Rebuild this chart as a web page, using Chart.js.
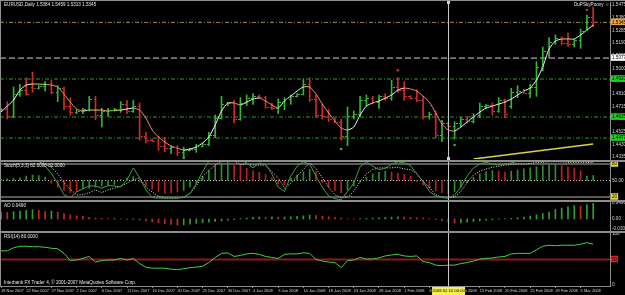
<!DOCTYPE html>
<html>
<head>
<meta charset="utf-8">
<script src="https://cdn.jsdelivr.net/npm/chart.js@4.4.1/dist/chart.umd.min.js"></script>
<style>
  html, body { margin: 0; padding: 0; background: #000; }
  #wrap { position: relative; width: 625px; height: 295px; background: #000; overflow: hidden; }
  #wrap canvas { position: absolute; left: 0; }
  .lbl { position: absolute; color: #e6e6e6; font: 4.6px "Liberation Sans", Arial, sans-serif; white-space: nowrap; line-height: 6px; z-index: 3; }
  .sep { position: absolute; left: 0; width: 625px; height: 2px; background: #8e8e8e; z-index: 2; }
</style>
</head>
<body>
<div id="wrap">
  <canvas id="cMain" width="625" height="160" style="top:0"></canvas>
  <canvas id="cSto" width="625" height="38" style="top:162px"></canvas>
  <canvas id="cAO" width="625" height="29" style="top:202px"></canvas>
  <canvas id="cRSI" width="625" height="62" style="top:233px"></canvas>
  <div class="sep" style="top:0;height:1px"></div>
  <div class="sep" style="top:0;left:0;width:1px;height:287px"></div>
  <div class="sep" style="top:160px"></div>
  <div class="sep" style="top:200px"></div>
  <div class="sep" style="top:231px"></div>
  <div class="lbl" id="tMain" style="left:4px;top:2px"></div>
  <div class="lbl" style="left:574px;top:2px">DuPSkyPoony &#9786;</div>
  <div class="lbl" id="tSto" style="left:4px;top:163px"></div>
  <div class="lbl" id="tAO" style="left:4px;top:203px"></div>
  <div class="lbl" id="tRSI" style="left:4px;top:234px"></div>
  <div class="lbl" style="left:4px;top:280px">Interbank FX Trader 4, &copy; 2001-2007 MetaQuotes Software Corp.</div>
</div>
<script>
// x axis labels, one every 4 bars starting at bar 0
var dateLabels = ['18 Nov 2007','22 Nov 2007','27 Nov 2007','2 Dec 2007','6 Dec 2007','11 Dec 2007',
  '16 Dec 2007','20 Dec 2007','25 Dec 2007','30 Dec 2007','4 Jan 2008','9 Jan 2008','14 Jan 2008',
  '18 Jan 2008','23 Jan 2008','28 Jan 2008','1 Feb 2008','6 Feb 2008','11 Feb 2008','15 Feb 2008',
  '20 Feb 2008','25 Feb 2008','29 Feb 2008','5 Mar 2008'];
var LABEL_STEP = 4;

// EURUSD daily bars
var open = [1.4690,1.4695,1.4640,1.4810,1.4840,1.4860,1.4850,1.4865,1.4880,1.4820,
  1.4850,1.4720,1.4670,1.4680,1.4690,1.4770,1.4650,1.4680,1.4690,1.4695,
  1.4735,1.4680,1.4720,1.4490,1.4460,1.4455,1.4420,1.4400,1.4410,1.4370,
  1.4390,1.4395,1.4420,1.4430,1.4500,1.4630,1.4730,1.4740,1.4620,1.4740,
  1.4780,1.4790,1.4785,1.4710,1.4700,1.4750,1.4770,1.4790,1.4805,1.4880,
  1.4770,1.4650,1.4640,1.4620,1.4600,1.4490,1.4640,1.4660,1.4760,1.4780,
  1.4750,1.4790,1.4775,1.4860,1.4840,1.4790,1.4775,1.4760,1.4640,1.4655,
  1.4500,1.4590,1.4570,1.4590,1.4620,1.4605,1.4650,1.4720,1.4725,1.4680,
  1.4760,1.4720,1.4820,1.4830,1.4815,1.4860,1.5010,1.5130,1.5200,1.5230,
  1.5190,1.5180,1.5210,1.5290,1.5384];
var high = [1.4700,1.4750,1.4860,1.4880,1.4930,1.4970,1.4870,1.4900,1.4910,1.4870,
  1.4860,1.4780,1.4690,1.4700,1.4790,1.4790,1.4700,1.4700,1.4700,1.4750,
  1.4760,1.4760,1.4740,1.4520,1.4470,1.4490,1.4480,1.4420,1.4420,1.4410,
  1.4400,1.4430,1.4440,1.4520,1.4650,1.4790,1.4745,1.4760,1.4780,1.4800,
  1.4810,1.4800,1.4790,1.4740,1.4770,1.4780,1.4800,1.4810,1.4920,1.4930,
  1.4800,1.4730,1.4690,1.4625,1.4620,1.4710,1.4680,1.4790,1.4800,1.4790,
  1.4800,1.4810,1.4910,1.4930,1.4900,1.4795,1.4840,1.4790,1.4670,1.4680,
  1.4610,1.4600,1.4600,1.4630,1.4640,1.4660,1.4740,1.4730,1.4740,1.4780,
  1.4770,1.4850,1.4870,1.4845,1.4880,1.5050,1.5160,1.5230,1.5250,1.5235,
  1.5265,1.5220,1.5295,1.5400,1.5459];
var low = [1.4680,1.4620,1.4630,1.4790,1.4800,1.4820,1.4845,1.4830,1.4810,1.4750,
  1.4690,1.4650,1.4660,1.4660,1.4680,1.4615,1.4560,1.4640,1.4680,1.4670,
  1.4660,1.4670,1.4460,1.4440,1.4450,1.4385,1.4375,1.4360,1.4345,1.4340,
  1.4380,1.4370,1.4410,1.4420,1.4480,1.4620,1.4720,1.4590,1.4610,1.4720,
  1.4730,1.4780,1.4700,1.4690,1.4660,1.4690,1.4730,1.4785,1.4800,1.4750,
  1.4630,1.4620,1.4600,1.4590,1.4460,1.4420,1.4620,1.4640,1.4720,1.4740,
  1.4700,1.4760,1.4760,1.4820,1.4760,1.4770,1.4750,1.4620,1.4620,1.4480,
  1.4450,1.4560,1.4470,1.4560,1.4590,1.4590,1.4630,1.4700,1.4650,1.4670,
  1.4630,1.4700,1.4780,1.4810,1.4780,1.4790,1.4980,1.5080,1.5180,1.5175,
  1.5165,1.5160,1.5150,1.5285,1.5313];
var close = [1.4695,1.4640,1.4810,1.4840,1.4810,1.4850,1.4865,1.4880,1.4820,1.4850,
  1.4720,1.4670,1.4680,1.4695,1.4770,1.4650,1.4680,1.4690,1.4695,1.4735,
  1.4680,1.4720,1.4490,1.4460,1.4455,1.4420,1.4400,1.4410,1.4370,1.4390,
  1.4395,1.4420,1.4430,1.4500,1.4630,1.4730,1.4740,1.4620,1.4740,1.4780,
  1.4790,1.4785,1.4710,1.4700,1.4750,1.4770,1.4790,1.4805,1.4880,1.4770,
  1.4650,1.4640,1.4620,1.4600,1.4490,1.4640,1.4660,1.4760,1.4780,1.4750,
  1.4790,1.4775,1.4860,1.4840,1.4790,1.4775,1.4760,1.4640,1.4655,1.4500,
  1.4590,1.4570,1.4590,1.4620,1.4605,1.4650,1.4720,1.4725,1.4680,1.4760,
  1.4660,1.4820,1.4830,1.4815,1.4860,1.5010,1.5130,1.5200,1.5230,1.5190,
  1.5180,1.5210,1.5280,1.5384,1.5345];

// smoothed average drawn over the bars
var ma = [1.4672,1.4717,1.4762,1.4837,1.4875,1.4882,1.4882,1.4879,1.4875,1.4860,
  1.4807,1.4747,1.4695,1.4680,1.4687,1.4687,1.4687,1.4680,1.4684,1.4687,
  1.4695,1.4702,1.4687,1.4627,1.4537,1.4485,1.4447,1.4417,1.4402,1.4387,
  1.4395,1.4410,1.4440,1.4485,1.4575,1.4680,1.4740,1.4740,1.4725,1.4747,
  1.4770,1.4777,1.4755,1.4725,1.4702,1.4755,1.4792,1.4830,1.4860,1.4860,
  1.4807,1.4732,1.4665,1.4605,1.4552,1.4537,1.4560,1.4650,1.4717,1.4740,
  1.4755,1.4777,1.4800,1.4837,1.4852,1.4845,1.4830,1.4792,1.4747,1.4665,
  1.4582,1.4537,1.4530,1.4560,1.4597,1.4635,1.4672,1.4702,1.4717,1.4732,
  1.4747,1.4770,1.4800,1.4830,1.4852,1.4912,1.5010,1.5145,1.5205,1.5220,
  1.5220,1.5220,1.5250,1.5287,1.5325];

// fractal dots
var upFractIdx = [63, 93];
var upFractVal = [1.4985, 1.5437];
var dnFractIdx = [29, 54, 72];
var dnFractVal = [1.4330, 1.4395, 1.4425];

// yellow trend line, horizontal levels
var trendIdx = [75, 94];
var trendVal = [1.4320, 1.4432];
var levelPrices = [1.5345, 1.5077, 1.4920, 1.4635, 1.4477];
var levelKinds = ['bid', 'white', 'green', 'green', 'green'];
var priceTicks = [1.5475, 1.5380, 1.5285, 1.5190, 1.5095, 1.5000, 1.4905, 1.4810,
  1.4715, 1.4620, 1.4525, 1.4430, 1.4335];

// stochastic pane
var stochK = [86,87,87,88,88,87,85,76,63,45, 24,19,29,35,40,40,36,41,40,38,
  51,73,55,33,19,18,18,18,18,20, 26,44,66,85,87,88,88,86,87,82,
  73,82,79,62,38,30,58,76,84,80, 58,38,22,17,15,30,45,75,84,76,
  70,72,80,84,82,77,62,48,30,22, 19,18,24,38,58,73,80,83,80,78,
  80,82,85,87,87,86,85,86,87,87, 86,84,85,87,82];
var stochD = [85,86,86,87,87,87,86,80,74,62, 46,34,24,24,28,33,28,33,36,40,
  45,51,55,38,29,21,19,18,18,19, 27,40,58,68,78,85,87,86,79,80,
  78,78,78,66,55,36,45,58,70,82, 72,55,38,24,19,20,30,48,62,70,
  73,73,73,74,71,70,63,48,38,24, 20,18,20,30,47,60,67,71,74,76,
  78,79,80,80,81,83,83,84,84,84, 83,83,83,83,82];
var stochHist = [2,3,4,5,8,10,9,6, -5,-12,-18,-22,-20,
  -15,-14,-12,-10,-9,-7,2,5,7, -3,-10,-16,-20,-23,-22,-21,
  -18,-12,-6,8,18,27,32,33, 31,27,22,18,15,11,5,-6,-8,
  4,10,16,20, 16,-4,-12,-18,-22, -18,-10,-3,6,12,15,17,
  15,13,11,8,-2,-8,-14,-19,-22,-24, -20,-12,-4,6,12,16,18,
  17,15, 17,19,21,23,25,27,28,29, 27,25,22,18, 8,9];
var stochHistCol = 'ggggggggrrrrrgggggggggrrrrrrrggggggggrrrrrrrrrggggrrrrrgggggggrrrrrrrrrrgggggggrrggggggggrrrrgg';
var stochTicks = [80, 50, 20];

// awesome oscillator pane
var ao = [0.0220,0.0210,0.0230,0.0250,0.0270,0.0290,0.0270,0.0240,0.0250,0.0210,
  0.0170,0.0130,0.0100,0.0080,0.0050,0.0030,0.0020,0.0010,0.0015,0.0005,
  -0.0010,-0.0020,-0.0030,-0.0060,-0.0090,-0.0120,-0.0150,-0.0170,-0.0190,-0.0180,
  -0.0160,-0.0140,-0.0120,-0.0100,-0.0080,-0.0060,-0.0040,-0.0020,0.0010,0.0030,
  0.0050,0.0060,0.0050,0.0065,0.0055,0.0060,0.0070,0.0080,0.0100,0.0120,
  0.0110,0.0090,0.0070,0.0050,0.0030,0.0010,0.0005,0.0010,0.0020,0.0030,
  0.0040,0.0050,0.0060,0.0065,0.0060,0.0050,0.0040,0.0030,0.0010,-0.0020,
  -0.0060,-0.0100,-0.0130,-0.0120,-0.0100,-0.0080,-0.0060,-0.0040,-0.0025,-0.0010,
  0.0005,0.0020,0.0040,0.0060,0.0090,0.0130,0.0170,0.0220,0.0300,0.0340,
  0.0380,0.0420,0.0400,0.0440,0.0490];
var aoTicks = [0.0496, 0, -0.03];

// RSI pane
var rsi = [67,67,73,76,76,75,75,74,72,71, 62,48,49,52,56,45,48,49,49,52,
  49,52,42,35,33,33,33,31,30,32, 34,35,37,44,54,62,63,56,58,61,
  62,60,56,54,52,60,61,61,63,62, 50,47,45,44,34,48,49,54,51,51,
  53,57,59,60,57,56,57,46,44,39, 38,39,39,42,44,47,51,52,53,55,
  56,61,62,62,62,69,76,78,77,78, 78,78,80,83,80];
var rsiTicks = [100, 50, 0];
var rsiLevel = 50;

var crossIdx = 71;
var crossLabel = '2008.02.10 00:00';

// ---- styles ----
var FONT = "'Liberation Sans', Arial, sans-serif";
var UP = '#36b436', DN = '#d22a2a';
var LEVEL_STYLE = {
  bid:   { line: '#a08c4c', dash: [4, 2, 1, 2], box: '#f2a22a' },
  white: { line: '#d0d0d0', dash: [6, 3], box: '#ffffff' },
  green: { line: '#2f9a2f', dash: [4, 2, 1, 2], box: '#1fd21f' }
};
var X0 = -0.16, X1 = 96.67;

Chart.defaults.font.family = FONT;
Chart.defaults.font.size = 4.6;
Chart.defaults.animation = false;
Chart.defaults.plugins.legend.display = false;
Chart.defaults.plugins.tooltip.enabled = false;

var idx = close.map(function (_, i) { return i; });
function pts(arr) { return arr.map(function (v, i) { return { x: i, y: v }; }); }
function hline(v, color, dash, w) {
  return { type: 'line', data: [{ x: X0, y: v }, { x: X1, y: v }], borderColor: color,
    borderDash: dash || [], borderWidth: w || 1, pointRadius: 0, order: 9 };
}

function yAxis(min, max, vals, fmt, boxOf) {
  return {
    position: 'right', min: min, max: max,
    afterFit: function (s) { s.width = 15; s.paddingTop = 0; s.paddingBottom = 0; },
    afterBuildTicks: function (s) { s.ticks = vals.map(function (v) { return { value: v }; }); },
    grid: { display: false, drawTicks: false },
    border: { display: true, color: '#8e8e8e', width: 1 },
    ticks: {
      autoSkip: false, padding: 2, font: { size: 4.6 },
      callback: function (v) { return fmt(v); },
      color: function (c) { return c.tick && boxOf(c.tick.value) ? '#000' : '#d4d4d4'; },
      showLabelBackdrop: function (c) { return !!(c.tick && boxOf(c.tick.value)); },
      backdropColor: function (c) { return (c.tick && boxOf(c.tick.value)) || 'rgba(0,0,0,0)'; },
      backdropPadding: { top: 1, bottom: 0, left: 1, right: 1 }
    }
  };
}
function xHidden() {
  return { type: 'linear', min: X0, max: X1, display: false, offset: false,
    afterFit: function (s) { s.paddingLeft = 0; s.paddingRight = 0; } };
}
function baseOptions(pad, xCfg, yCfg) {
  return {
    responsive: false, devicePixelRatio: 1,
    layout: { padding: pad, autoPadding: false },
    scales: { x: xCfg, y: yCfg }
  };
}

var crossPlugin = {
  id: 'cross',
  afterDatasetsDraw: function (chart) {
    var ctx = chart.ctx, a = chart.chartArea;
    var px = Math.round(chart.scales.x.getPixelForValue(crossIdx)) + 0.5;
    ctx.save();
    ctx.strokeStyle = '#c8c8c8'; ctx.lineWidth = 1;
    ctx.beginPath(); ctx.moveTo(px, a.top); ctx.lineTo(px, a.bottom); ctx.stroke();
    ctx.restore();
  }
};

function maColor(a, b) {
  if (b - a > 0.0005) return '#eef6ff';
  if (a - b > 0.0005) return '#f3907a';
  return '#e6e04a';
}

// ---- main price pane ----
var ohlcPlugin = {
  id: 'ohlc',
  afterDatasetsDraw: function (chart) {
    var ctx = chart.ctx, x = chart.scales.x, y = chart.scales.y, a = chart.chartArea;
    ctx.save();
    for (var i = 0; i < close.length; i++) {
      var px = Math.round(x.getPixelForValue(i));
      ctx.fillStyle = close[i] >= open[i] ? UP : DN;
      ctx.fillRect(px - 2, Math.round(y.getPixelForValue(open[i])), 2, 1);
      ctx.fillRect(px + 1, Math.round(y.getPixelForValue(close[i])), 2, 1);
    }
    var cx = Math.round(x.getPixelForValue(crossIdx));
    ctx.fillStyle = '#f0e040';
    ctx.fillRect(cx - 1, a.top - 1, 3, 3);
    ctx.fillRect(cx - 1, a.bottom - 2, 3, 3);
    ctx.restore();
  }
};

var mainSets = levelPrices.map(function (p, k) {
  var st = LEVEL_STYLE[levelKinds[k]];
  return hline(p, st.line, st.dash, 1);
});
mainSets.push({ type: 'line', data: trendIdx.map(function (t, k) { return { x: t, y: trendVal[k] }; }),
  borderColor: '#d9d24a', borderWidth: 1.5, pointRadius: 0, order: 8 });
mainSets.push({ type: 'bar', data: idx.map(function (i) { return { x: i, y: [low[i], high[i]] }; }),
  backgroundColor: idx.map(function (i) { return close[i] >= open[i] ? UP : DN; }),
  barThickness: 1, borderWidth: 0, order: 5 });
mainSets.push({ type: 'line', data: pts(ma), borderColor: '#eef6ff', borderWidth: 1, pointRadius: 0,
  tension: 0.2, order: 2,
  segment: { borderColor: function (c) { return maColor(c.p0.parsed.y, c.p1.parsed.y); } } });
mainSets.push({ type: 'scatter', data: upFractIdx.map(function (t, k) { return { x: t, y: upFractVal[k] }; }),
  pointRadius: 1.3, backgroundColor: DN, borderWidth: 0, order: 1 });
mainSets.push({ type: 'scatter', data: dnFractIdx.map(function (t, k) { return { x: t, y: dnFractVal[k] }; }),
  pointRadius: 1.3, backgroundColor: UP, borderWidth: 0, order: 1 });

new Chart(document.getElementById('cMain'), {
  type: 'bar',
  data: { datasets: mainSets },
  options: baseOptions({ top: 2, bottom: 1, left: 0, right: 0 }, xHidden(),
    yAxis(1.4320, 1.54975, priceTicks.concat(levelPrices), function (v) { return v.toFixed(4); },
      function (v) { var k = levelPrices.indexOf(v); return k < 0 ? null : LEVEL_STYLE[levelKinds[k]].box; })),
  plugins: [ohlcPlugin, crossPlugin]
});

// ---- stochastic pane ----
new Chart(document.getElementById('cSto'), {
  type: 'bar',
  data: { datasets: [
    hline(80, '#b4b4a4'), hline(20, '#b4b4a4'), hline(50, '#d0d0d0', [1, 2]),
    { type: 'bar', data: idx.map(function (i) { return { x: i, y: [50, 50 + stochHist[i]] }; }),
      backgroundColor: idx.map(function (i) { return stochHistCol[i] === 'g' ? '#2f8f2f' : '#b82222'; }),
      barThickness: 1, borderWidth: 0, order: 5 },
    { type: 'line', data: pts(stochD), borderColor: '#e4e4e4', borderDash: [1, 1.5], borderWidth: 1,
      pointRadius: 0, order: 3 },
    { type: 'line', data: pts(stochK), borderColor: '#3f9f3f', borderWidth: 1, pointRadius: 0, order: 2 }
  ] },
  options: baseOptions(0, xHidden(),
    yAxis(14.55, 83.64, stochTicks, function (v) { return v === 50 ? '50.00' : String(v); },
      function (v) { return v === 50 ? null : '#e8d820'; })),
  plugins: [crossPlugin]
});

// ---- AO pane ----
new Chart(document.getElementById('cAO'), {
  type: 'bar',
  data: { datasets: [
    { type: 'bar', data: idx.map(function (i) { return { x: i, y: [0, ao[i]] }; }),
      backgroundColor: idx.map(function (i) { return i === 0 || ao[i] > ao[i - 1] ? '#2f9f2f' : '#c42828'; }),
      barThickness: 1, borderWidth: 0 }
  ] },
  options: baseOptions(0, xHidden(),
    yAxis(-0.0375, 0.053125, aoTicks, function (v) { return v === 0 ? '0.00' : v.toFixed(4); },
      function () { return null; })),
  plugins: [crossPlugin]
});

// ---- RSI pane with the date axis ----
var dateBoxPlugin = {
  id: 'dateBox',
  afterDraw: function (chart) {
    var ctx = chart.ctx, a = chart.chartArea;
    var px = Math.round(chart.scales.x.getPixelForValue(crossIdx));
    ctx.save();
    ctx.fillStyle = '#f4f04a';
    ctx.fillRect(px - 16, a.bottom + 1, 33, 8);
    ctx.fillStyle = '#000';
    ctx.font = '4.2px ' + FONT;
    ctx.textAlign = 'center'; ctx.textBaseline = 'middle';
    ctx.fillText(crossLabel, px + 0.5, a.bottom + 5);
    ctx.restore();
  }
};

var rsiX = {
  type: 'linear', min: X0, max: X1, position: 'bottom', offset: false,
  afterFit: function (s) { s.height = 9; s.paddingLeft = 0; s.paddingRight = 0; },
  afterBuildTicks: function (s) {
    s.ticks = dateLabels.map(function (_, k) { return { value: k * LABEL_STEP }; });
  },
  grid: { display: true, drawOnChartArea: false, drawTicks: true, tickLength: 2, color: '#8e8e8e' },
  border: { display: true, color: '#8e8e8e' },
  ticks: { autoSkip: false, maxRotation: 0, minRotation: 0, align: 'start', padding: 0,
    color: '#d4d4d4', font: { size: 4 },
    callback: function (v, k) { return dateLabels[k]; } }
};

new Chart(document.getElementById('cRSI'), {
  type: 'line',
  data: { datasets: [
    hline(rsiLevel, '#8c1a1a', [], 2),
    { type: 'line', data: pts(rsi), borderColor: '#46d046', borderWidth: 1, pointRadius: 0, order: 2 }
  ] },
  options: baseOptions(0, rsiX,
    yAxis(-1.96, 101.96, rsiTicks, function (v) { return String(v); },
      function (v) { return v === rsiLevel ? '#e02020' : null; })),
  plugins: [crossPlugin, dateBoxPlugin]
});

// pane captions
var n = close.length - 1;
document.getElementById('tMain').textContent = 'EURUSD,Daily  ' + open[n].toFixed(4) + ' ' +
  high[n].toFixed(4) + ' ' + low[n].toFixed(4) + ' ' + close[n].toFixed(4);
document.getElementById('tSto').textContent = 'Stoch(5,3,3) ' + stochK[n].toFixed(4) + ' ' + stochD[n].toFixed(4);
document.getElementById('tAO').textContent = 'AO ' + ao[n].toFixed(4);
document.getElementById('tRSI').textContent = 'RSI(14) ' + rsi[n].toFixed(4);
</script>
</body>
</html>
